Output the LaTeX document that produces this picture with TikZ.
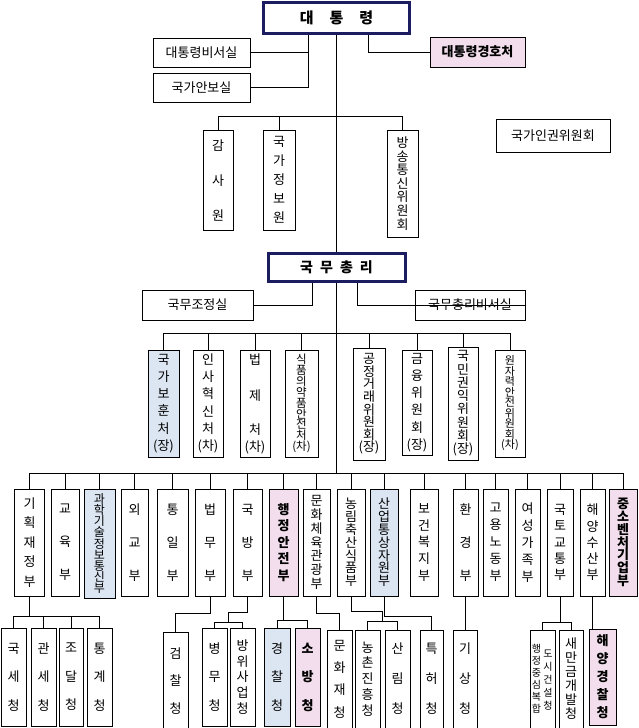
\documentclass[tikz,border=0pt]{standalone}
\usepackage{fontspec}
\setmainfont{Noto Sans CJK KR}
\definecolor{navy}{RGB}{28,28,96}
\definecolor{lightpink}{RGB}{242,222,236}
\definecolor{lightblue}{RGB}{220,230,242}

\begin{document}
\begin{tikzpicture}[x=1pt, y=-1pt, line width=0.9pt,
    head/.style={draw=navy, line width=3pt, fill=white, inner sep=0pt},
    office/.style={draw, fill=white, inner sep=0pt, minimum height=29pt, font=\fontsize{13}{15}\selectfont},
    col/.style={draw, fill=white, inner sep=0pt, align=center, font=\fontsize{13}{#1}\selectfont},
    colb/.style={col=#1, font=\fontsize{13}{#1}\selectfont\bfseries},
    colf/.style 2 args={col=#2, font=\fontsize{#1}{#2}\selectfont},
    pinkfill/.style={fill=lightpink},
    bluefill/.style={fill=lightblue}]
    \path[use as bounding box, fill=white] (0,0) rectangle (638,728);

    % president and offices
    \node[head, minimum width=146pt, minimum height=31pt, font=\fontsize{15}{18}\selectfont\bfseries] (pres) at (336.5,17.5) {대\hspace{16pt}통\hspace{16pt}령};
    \node[office, minimum width=97pt] (presSec) at (201.5,52.5) {대통령비서실};
    \node[office, minimum width=97pt] (natSec) at (201.5,87.5) {국가안보실};
    \node[office, pinkfill, minimum width=95pt, minimum height=30pt, font=\fontsize{13}{15}\selectfont\bfseries] (guard) at (477.5,52) {대통령경호처};
    \node[office, minimum width=114pt, minimum height=33pt] (nhrc) at (553,135.5) {국가인권위원회};

    \node[col=35, minimum width=30pt, minimum height=100pt] (audit) at (218,180) {감\\사\\원};
    \node[col=19, minimum width=32pt, minimum height=100pt] (nis) at (279,180) {국\\가\\정\\보\\원};
    \node[col=13.6, minimum width=31pt, minimum height=107pt] (kcc) at (402.5,183.5) {방\\송\\통\\신\\위\\원\\회};

    \draw ([xshift=-28.5pt]pres.south) |- (natSec.east);
    \draw (presSec.east) -| ([xshift=-28.5pt]pres.south);
    \draw ([xshift=31.5pt]pres.south) |- (guard.west);
    \draw (audit.north) -- ++(0,-13) -| (kcc.north);
    \draw (nis.north) -- ++(0,-13);

    % prime minister
    \node[head, minimum width=137pt, minimum height=28pt, font=\fontsize{14}{17}\selectfont\bfseries] (pm) at (336.5,267) {국\hspace{7pt}무\hspace{7pt}총\hspace{7pt}리};
    \node[office, minimum width=111pt, minimum height=30pt] (opc) at (197.5,305) {국무조정실};
    \node[office, minimum width=110pt, minimum height=30pt] (pmSec) at (470,305) {국무총리비서실};
    \draw (pres) -- (pm);
    \draw ([xshift=-24.5pt]pm.south) |- (opc.east);
    \draw ([xshift=20.5pt]pm.south) |- (pmSec.east);

    % agencies under the prime minister
    \begin{scope}[every node/.append style={minimum width=30pt, minimum height=107pt}]
        \node[col=17.3, bluefill, minimum width=31pt] (mpva) at (163.5,403.5) {국\\가\\보\\훈\\처\\(장)};
        \node[col=17.3] (mpm) at (208,403.5) {인\\사\\혁\\신\\처\\(차)};
        \node[col=17] (moleg) at (255,403.5) {법\\[19pt]제\\[17pt]처\\(차)};
        \node[colf={11.5}{10.9}, minimum width=33pt] (mfds) at (301.5,403.5) {식\\품\\의\\약\\품\\안\\전\\처\\(차)};
        \node[col=12.6, minimum width=32pt, minimum height=112pt] (ftc) at (369,404) {공\\정\\거\\래\\위\\원\\회\\(장)};
        \node[col=17.3, minimum height=105pt] (fsc) at (417,402.5) {금\\융\\위\\원\\회\\(장)};
        \node[col=13.3, minimum height=113pt] (acrc) at (463,403.5) {국\\민\\권\\익\\위\\원\\회\\(장)};
        \node[colf={11}{10.5}] (nssc) at (510,403.5) {원\\자\\력\\안\\전\\위\\원\\회\\(차)};
    \end{scope}
    \coordinate (bus4) at (0,333);
    \draw (mpva.north) |- (bus4 -| nssc.north) -- (nssc.north);
    \foreach \n in {mpm,moleg,mfds,ftc,fsc,acrc}
        \draw (\n.north) -- (\n.north |- bus4);

    % ministries
    \begin{scope}[every node/.append style={minimum width=28pt, minimum height=107pt}]
        \node[col=19.5, minimum width=30pt] (moef) at (29.5,542.5) {기\\획\\재\\정\\부};
        \node[col=33] (moe) at (65,542.5) {교\\육\\부};
        \node[colf={12}{11.2}, bluefill, minimum width=31pt, minimum height=109pt] (msit) at (99.5,543.5) {과\\학\\기\\술\\정\\보\\통\\신\\부};
        \node[col=33, minimum width=27pt] (mofa) at (134.5,542.5) {외\\교\\부};
        \node[col=33, minimum width=31pt] (mou) at (172.5,542.5) {통\\일\\부};
        \node[col=33, minimum width=30pt] (moj) at (210,542.5) {법\\무\\부};
        \node[col=33, minimum width=29pt] (mnd) at (247.5,542.5) {국\\방\\부};
        \node[colb=16.5, pinkfill, minimum width=29pt] (mois) at (283.5,542.5) {행\\정\\안\\전\\부};
        \node[col=13.9, minimum width=27pt] (mcst) at (316.5,542.5) {문\\화\\체\\육\\관\\광\\부};
        \node[col=12.8] (mafra) at (351,542.5) {농\\림\\축\\산\\식\\품\\부};
        \node[col=12.8, bluefill] (motie) at (384,542.5) {산\\업\\통\\상\\자\\원\\부};
        \node[col=16.7] (mohw) at (424,542.5) {보\\건\\복\\지\\부};
        \node[col=33, minimum width=25pt] (me) at (465.5,542.5) {환\\경\\부};
        \node[col=17, minimum width=25pt] (moel) at (495.5,542.5) {고\\용\\노\\동\\부};
        \node[col=17, minimum width=25pt] (mogef) at (527.5,542.5) {여\\성\\가\\족\\부};
        \node[col=16.3, minimum width=26pt] (molit) at (560,542.5) {국\\토\\교\\통\\부};
        \node[col=16.3, minimum width=25pt] (mof) at (592.5,542.5) {해\\양\\수\\산\\부};
        \node[colb=12.8, pinkfill] (mss) at (623,542.5) {중\\소\\벤\\처\\기\\업\\부};
    \end{scope}
    \coordinate (bus5) at (0,473);
    \draw (pm.south) -- (pm.south |- bus5);
    \draw (moef.north) |- (bus5 -| mss.north) -- (mss.north);
    \foreach \n in {moe,msit,mofa,mou,moj,mnd,mois,mcst,mafra,motie,mohw,me,moel,mogef,molit,mof}
        \draw (\n.north) -- (\n.north |- bus5);

    % offices under the ministries
    \begin{scope}[every node/.append style={minimum width=25pt, minimum height=98pt}]
        \node[col=28.5] (nts) at (13.5,677) {국\\세\\청};
        \node[col=28.5] (kcs) at (43.5,677) {관\\세\\청};
        \node[col=28.5, minimum width=24pt] (pps) at (71,677) {조\\달\\청};
        \node[col=28.5] (kostat) at (99.5,677) {통\\계\\청};
        \node[col=27.5] (spo) at (175.5,681) {검\\찰\\청};
        \node[col=28.5] (mma) at (214.5,677) {병\\무\\청};
        \node[col=15.8] (dapa) at (242.5,677) {방\\위\\사\\업\\청};
        \node[col=28.5, bluefill, minimum width=26pt] (npa) at (277,677) {경\\찰\\청};
        \node[colb=28.5, pinkfill] (nfa) at (307.5,677) {소\\방\\청};
        \node[col=22.3] (cha) at (339.5,679) {문\\화\\재\\청};
        \node[col=15.8] (rda) at (367.5,679) {농\\촌\\진\\흥\\청};
        \node[col=30] (kfs) at (397.5,679) {산\\림\\청};
        \node[col=30, minimum width=23pt] (kipo) at (431.5,679) {특\\허\\청};
        \node[col=30, minimum width=24pt] (kma) at (465,679) {기\\상\\청};
        \node[col=12] (naacc) at (542.5,679) {};
        \node[col=14, minimum width=24pt] (smg) at (571,679) {새\\만\\금\\개\\발\\청};
        \node[colb=18, pinkfill, minimum width=27pt, minimum height=96pt] (kcg) at (602.5,677) {해\\양\\경\\찰\\청};
    \end{scope}
    % two columns of small text in one box
    \node[align=center, inner sep=0pt, font=\fontsize{10}{12}\selectfont] (naaccL) at ([xshift=-6pt]naacc.center) {행\\정\\중\\심\\복\\합};
    \node[align=center, inner sep=0pt, font=\fontsize{10}{13}\selectfont] (naaccR) at ([xshift=5.5pt, yshift=-1pt]naacc.center) {도\\시\\건\\설\\청};

    \draw (moef.south) -- ++(0,20) coordinate (b6a);
    \draw (nts.north) |- (b6a -| kostat.north) -- (kostat.north);
    \draw (kcs.north) -- (kcs.north |- b6a);
    \draw (pps.north) -- (pps.north |- b6a);
    \draw (moj.south) -- ++(0,17) -| (spo.north);
    \draw (mnd.south) -- ++(0,16) -- ++(-19,0) -- ++(0,10) coordinate (b6c);
    \draw (mma.north) |- (b6c -| dapa.north) -- (dapa.north);
    \draw (mois.south) -- ++(0,24) coordinate (b6d);
    \draw (npa.north) |- (b6d -| nfa.north) -- (nfa.north);
    \draw (mcst.south) -- ++(0,17) -| (cha.north);
    \draw (mafra.south) -- ++(0,15) -- ++(31.5,0) -- ++(0,10) coordinate (b6f);
    \draw (rda.north) |- (b6f -| kfs.north) -- (kfs.north);
    \draw (motie.south) -- ++(0,20) -| (kipo.north);
    \draw (me.south) -- (me.south |- kma.north);
    \draw (molit.south) -- ++(0,26) coordinate (b6g);
    \draw (naacc.north) |- (b6g -| smg.north) -- (smg.north);
    \draw (mof.south) -- (mof.south |- kcg.north);
\end{tikzpicture}
\end{document}
